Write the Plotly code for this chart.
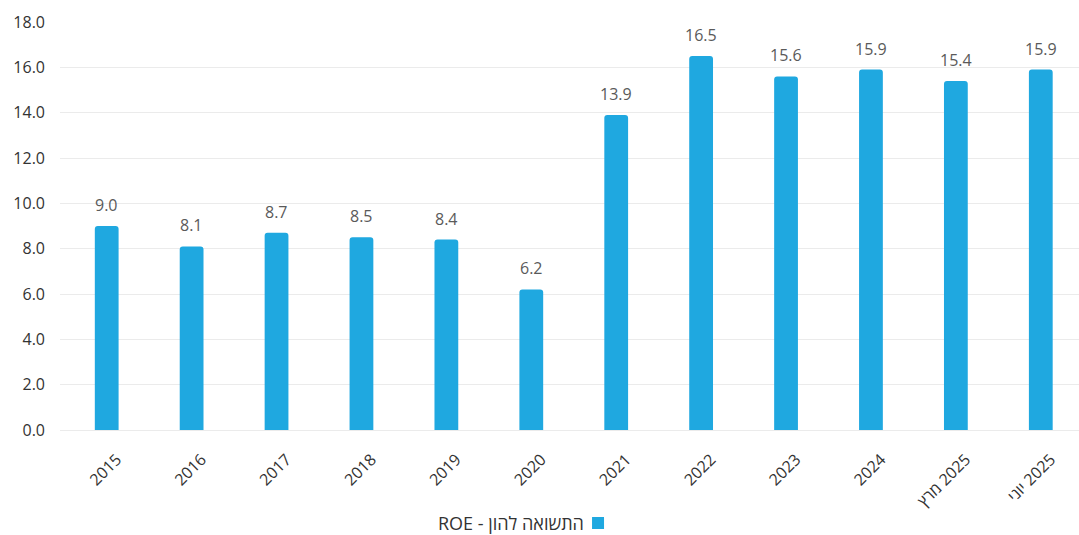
import plotly.graph_objects as go

# Return on equity by period
categories = ["2015", "2016", "2017", "2018", "2019", "2020", "2021", "2022",
              "2023", "2024", "מרץ\u200e 2025", "יוני\u200e 2025"]
roe_values = [9.0, 8.1, 8.7, 8.5, 8.4, 6.2, 13.9, 16.5, 15.6, 15.9, 15.4, 15.9]
y_ticks = [0, 2, 4, 6, 8, 10, 12, 14, 16, 18]
legend_label = "ROE - התשואה להון"

BAR_COLOR = "#1fa8e0"
FONT = "Open Sans"
LEGEND_Y = -0.228

fig = go.Figure(
    go.Bar(
        x=list(range(len(categories))),
        y=roe_values,
        width=0.28,
        marker=dict(color=BAR_COLOR, cornerradius=3, line=dict(width=0)),
        showlegend=False,
        hovertext=categories,
        hoverinfo="text+y",
    )
)

# value labels above each bar
for i, val in enumerate(roe_values):
    fig.add_annotation(
        x=i, y=val, text=f"{val:.1f}", showarrow=False,
        yanchor="bottom", yshift=8,
        font=dict(family=FONT, size=16, color="#5a5a5a"),
    )

# custom legend: label text with square swatch on its right
fig.add_annotation(
    xref="paper", yref="paper", x=0.515, y=LEGEND_Y,
    xanchor="right", yanchor="middle", text=legend_label, showarrow=False,
    borderpad=0,
    font=dict(family=FONT, size=18, color="#333333"),
)
fig.add_shape(
    type="rect", xref="paper", yref="paper",
    xsizemode="pixel", ysizemode="pixel",
    xanchor=0.528, yanchor=LEGEND_Y,
    x0=-6, x1=6, y0=-6, y1=6,
    fillcolor=BAR_COLOR, line=dict(width=0),
)

fig.update_layout(
    width=1079, height=535,
    margin=dict(l=60, r=0, t=22, b=105),
    plot_bgcolor="white", paper_bgcolor="white",
    font=dict(family=FONT, size=16, color="#333333"),
)
fig.update_xaxes(
    range=[-0.55, 11.45],
    tickvals=list(range(len(categories))), ticktext=categories,
    tickangle=-45, showgrid=False, showline=False, ticks="",
    zeroline=False, ticklabelstandoff=16, ticklabelshift=10,
    tickfont=dict(family=FONT, size=16, color="#333333"),
)
fig.update_yaxes(
    range=[0, 18], tickvals=y_ticks, ticktext=[f"{v:.1f}" for v in y_ticks],
    showgrid=True, gridcolor="#ebebeb", gridwidth=1,
    zeroline=True, zerolinecolor="#ebebeb", zerolinewidth=1,
    showline=False, ticks="", ticklabelstandoff=14,
    tickfont=dict(family=FONT, size=16, color="#333333"),
)

fig.write_html("out.html")
